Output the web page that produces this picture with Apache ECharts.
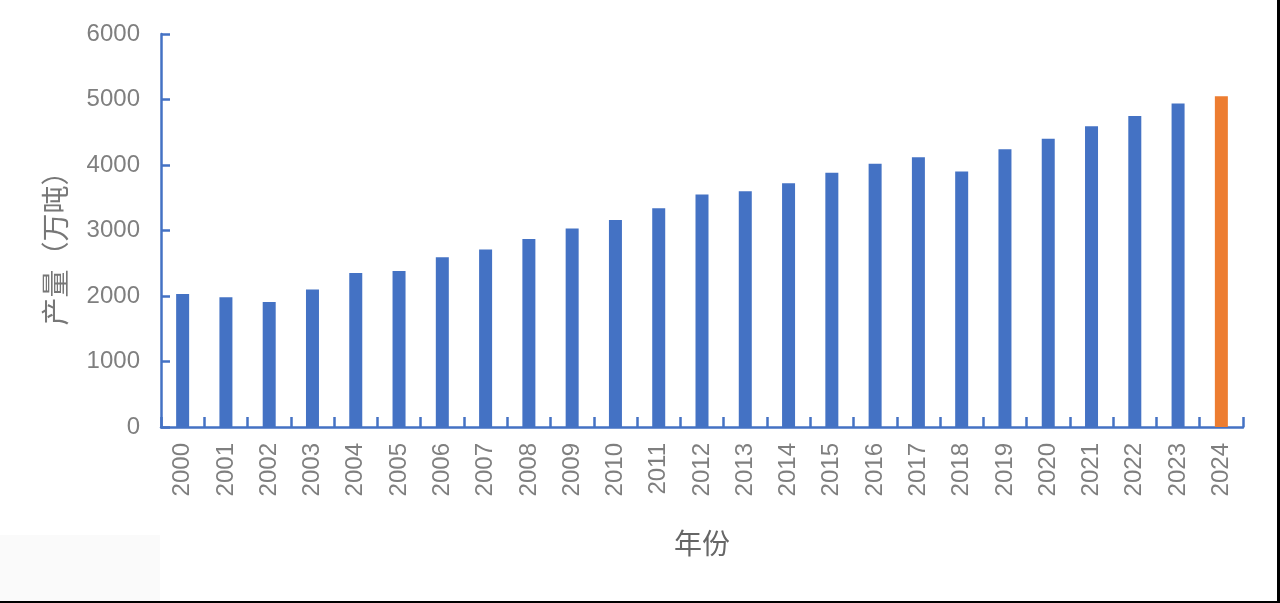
<!DOCTYPE html>
<html>
<head>
<meta charset="utf-8">
<script src="https://cdn.jsdelivr.net/npm/echarts@6/dist/echarts.min.js"></script>
<style>
html,body{margin:0;padding:0;background:#fff;}
#main{width:1280px;height:603px;}
</style>
</head>
<body>
<div id="main"></div>
<script>
// 年份
var years = ['2000','2001','2002','2003','2004','2005','2006','2007','2008','2009','2010','2011','2012',
    '2013','2014','2015','2016','2017','2018','2019','2020','2021','2022','2023','2024'];
// 产量（万吨）
var output = [2030, 1980, 1910, 2100, 2350, 2380, 2590, 2710, 2870, 3030, 3160, 3340, 3550,
    3600, 3720, 3880, 4020, 4120, 3900, 4240, 4400, 4590, 4750, 4940, 5050];
// 最后一年高亮
var highlightYear = '2024';
var yTicks = [0, 6000, 1000];

var chart = echarts.init(document.getElementById('main'));

var barData = [];
for (var i = 0; i < years.length; i++) {
    barData.push({
        value: output[i],
        itemStyle: {color: years[i] === highlightYear ? '#ED7D31' : '#4472C4'}
    });
}

var axisColor = '#4472C4';
var labelColor = '#7f7f7f';
var font = '"Liberation Sans", Arial, "Noto Sans CJK SC", sans-serif';

var option = {
    backgroundColor: '#fff',
    animation: false,
    grid: {left: 161, right: 37, top: 34, bottom: 176},
    xAxis: {
        type: 'category',
        data: years,
        name: '年份',
        nameLocation: 'middle',
        nameGap: 102,
        nameTextStyle: {color: '#666', fontSize: 28, fontFamily: '"Noto Sans CJK SC", sans-serif'},
        axisLine: {lineStyle: {color: axisColor, width: 2.5}},
        axisTick: {show: true, inside: true, length: 10, alignWithLabel: false, lineStyle: {color: axisColor, width: 2.5}},
        axisLabel: {rotate: 90, margin: 16, color: labelColor, fontSize: 24, fontFamily: font}
    },
    yAxis: {
        type: 'value',
        min: yTicks[0],
        max: yTicks[1],
        interval: yTicks[2],
        name: '产量（万吨）',
        nameLocation: 'middle',
        nameGap: 92,
        nameTextStyle: {color: '#777', fontSize: 28, fontFamily: '"Noto Sans CJK SC", sans-serif', padding: [0, 0, 0, -22]},
        axisLine: {show: true, lineStyle: {color: axisColor, width: 2.5}},
        axisTick: {show: true, inside: true, length: 9, lineStyle: {color: axisColor, width: 2.5}},
        splitLine: {show: false},
        axisLabel: {
            margin: 21, color: labelColor, fontSize: 24, fontFamily: font,
            formatter: function (v) { return String(v); }
        }
    },
    series: [{
        type: 'bar',
        data: barData,
        barWidth: 13
    }],
    graphic: [
        {type: 'rect', left: 0, top: 535, shape: {width: 160, height: 66}, style: {fill: '#fafafa'}, silent: true},
        {type: 'rect', right: 0, top: 0, shape: {width: 3, height: 603}, style: {fill: '#000'}, silent: true},
        {type: 'rect', left: 0, bottom: 0, shape: {width: 1280, height: 2}, style: {fill: '#000'}, silent: true}
    ]
};

chart.setOption(option);
</script>
</body>
</html>
